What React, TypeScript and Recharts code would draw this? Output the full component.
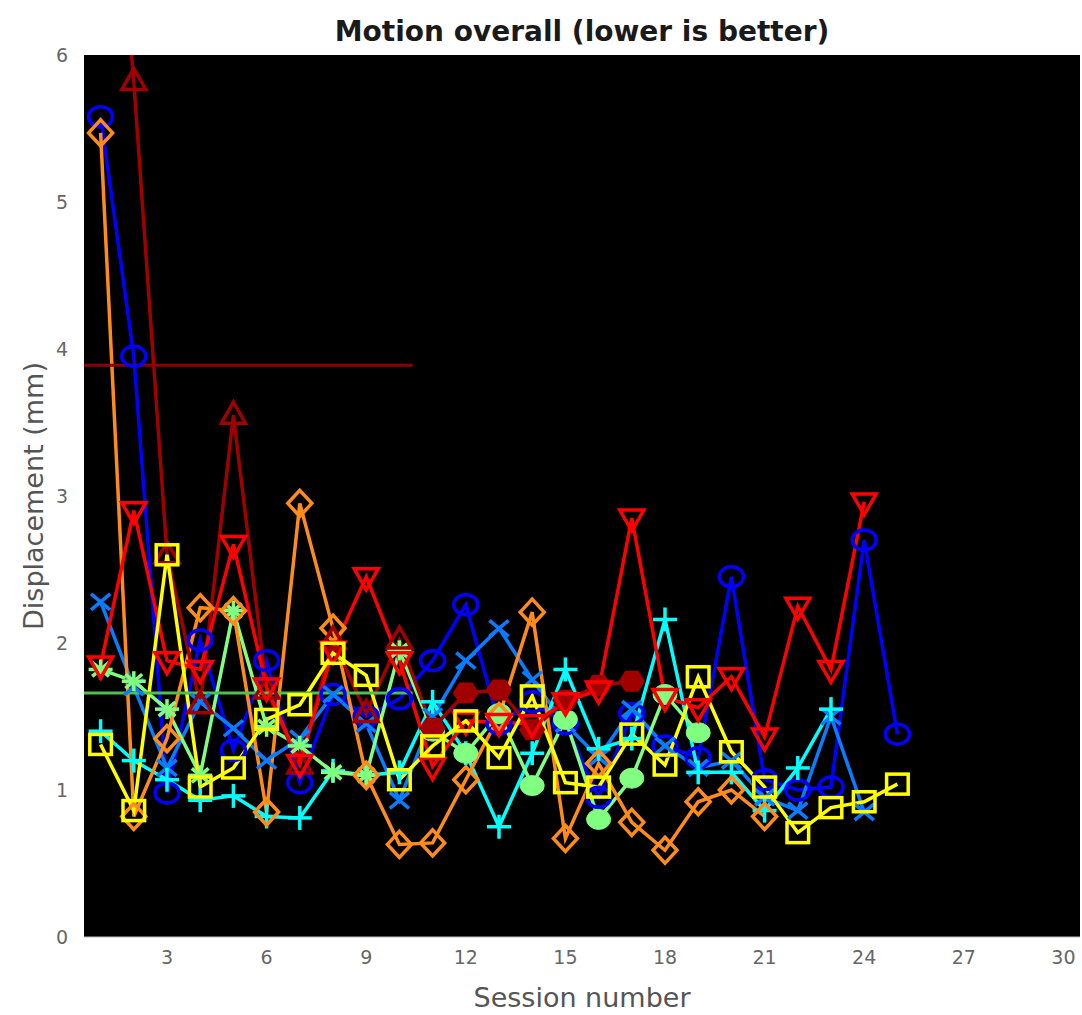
import { LineChart, Line, XAxis, YAxis, CartesianGrid, ReferenceLine } from 'recharts';

// session numbers on the x axis
const sessions = [1, 2, 3, 4, 5, 6, 7, 8, 9, 10, 11, 12, 13, 14, 15, 16, 17, 18, 19, 20, 21, 22, 23, 24, 25];

// displacement per session (mm), null = no session
const blueCircle = [5.58, 3.95, 0.98, 2.02, 1.27, 1.88, 1.05, 1.65, 1.5, 1.62, 1.88, 2.26, 1.45, 1.6, 1.45, 0.95, 1.52, 1.3, 1.22, 2.45, 1.07, 1.0, 1.02, 2.7, 1.38];
const lightBlueCross = [2.28, 1.7, 1.15, 1.6, 1.42, 1.2, 1.35, 1.65, 1.45, 0.93, 1.5, 1.88, 2.1, 1.75, 1.45, 1.22, 1.55, 1.3, 1.15, 1.2, 0.95, 0.86, 1.5, 0.85, null];
const cyanPlus = [1.4, 1.2, 1.07, 0.93, 0.96, 0.82, 0.81, 1.13, 1.1, 1.12, 1.6, 1.25, 0.75, 1.25, 1.82, 1.28, 1.35, 2.16, 1.12, 1.12, 0.86, 1.15, 1.55, null, null];
const greenMixed = [1.82, 1.74, 1.55, 1.1, 2.22, 1.43, 1.3, 1.12, 1.1, 1.95, 1.4, 1.25, 1.52, 1.03, 1.48, 0.8, 1.08, 1.65, 1.39, null, null, null, null, null, null];
const orangeDiamond = [5.47, 0.82, 1.35, 2.24, 2.22, 0.85, 2.95, 2.1, 1.1, 0.63, 0.64, 1.07, 1.5, 2.21, 0.67, 1.18, 0.78, 0.59, 0.92, 1.0, 0.82, null, null, null, null];
const darkRedMixed = [8.5, 5.82, 2.6, 1.58, 3.55, 1.68, 1.17, 2.02, 1.52, 2.02, 1.42, 1.66, 1.68, 1.41, 1.61, 1.71, 1.74, null, null, null, null, null, null, null, null];
const redDown = [1.85, 2.9, 1.88, 1.82, 2.67, 1.7, 1.18, 1.95, 2.45, 1.88, 1.16, 1.47, 1.46, 1.45, 1.6, 1.68, 2.85, 1.63, 1.56, 1.77, 1.36, 2.25, 1.82, 2.96, null];
const yellowSquare = [1.31, 0.86, 2.6, 1.02, 1.15, 1.48, 1.58, 1.93, 1.78, 1.07, 1.3, 1.47, 1.22, 1.64, 1.05, 1.02, 1.38, 1.17, 1.77, 1.26, 1.02, 0.71, 0.88, 0.92, 1.04];

// horizontal reference levels drawn over the first sessions
const darkRedLevel = 3.89;
const greenLevel = 1.66;
const levelEnd = 10.4;

const xTicks = [3, 6, 9, 12, 15, 18, 21, 24, 27, 30];
const yTicks = [0, 1, 2, 3, 4, 5, 6];

const data = sessions.map((s, i) => ({
  session: s,
  blue: blueCircle[i],
  lightBlue: lightBlueCross[i],
  cyan: cyanPlus[i],
  green: greenMixed[i],
  orange: orangeDiamond[i],
  darkRed: darkRedMixed[i],
  red: redDown[i],
  yellow: yellowSquare[i],
}));

function Marker({ cx, cy, shape, color }: any) {
  const sx = 12;
  const sy = 10;
  const sw = 3.5;
  if (shape === 'circle') {
    return <ellipse cx={cx} cy={cy} rx={sx} ry={sy} fill="none" stroke={color} strokeWidth={sw} />;
  }
  if (shape === 'diamond') {
    const pts = `${cx},${cy - sy * 1.3} ${cx + sx},${cy} ${cx},${cy + sy * 1.3} ${cx - sx},${cy}`;
    return <polygon points={pts} fill="none" stroke={color} strokeWidth={sw} />;
  }
  if (shape === 'up') {
    const pts = `${cx},${cy - sy * 1.3} ${cx + sx},${cy + sy * 0.8} ${cx - sx},${cy + sy * 0.8}`;
    return <polygon points={pts} fill="none" stroke={color} strokeWidth={sw} />;
  }
  if (shape === 'down') {
    const pts = `${cx},${cy + sy * 1.3} ${cx + sx},${cy - sy * 0.8} ${cx - sx},${cy - sy * 0.8}`;
    return <polygon points={pts} fill="none" stroke={color} strokeWidth={sw} />;
  }
  if (shape === 'square') {
    return <rect x={cx - sx * 0.9} y={cy - sy} width={sx * 1.8} height={sy * 2} fill="none" stroke={color} strokeWidth={sw} />;
  }
  if (shape === 'plus') {
    return (
      <g stroke={color} strokeWidth={sw}>
        <line x1={cx - sx} y1={cy} x2={cx + sx} y2={cy} />
        <line x1={cx} y1={cy - sy * 1.2} x2={cx} y2={cy + sy * 1.2} />
      </g>
    );
  }
  if (shape === 'cross') {
    return (
      <g stroke={color} strokeWidth={sw}>
        <line x1={cx - sx * 0.8} y1={cy - sy * 0.8} x2={cx + sx * 0.8} y2={cy + sy * 0.8} />
        <line x1={cx - sx * 0.8} y1={cy + sy * 0.8} x2={cx + sx * 0.8} y2={cy - sy * 0.8} />
      </g>
    );
  }
  if (shape === 'asterisk') {
    return (
      <g stroke={color} strokeWidth={sw}>
        <line x1={cx - sx} y1={cy} x2={cx + sx} y2={cy} />
        <line x1={cx} y1={cy - sy} x2={cx} y2={cy + sy} />
        <line x1={cx - sx * 0.7} y1={cy - sy * 0.7} x2={cx + sx * 0.7} y2={cy + sy * 0.7} />
        <line x1={cx - sx * 0.7} y1={cy + sy * 0.7} x2={cx + sx * 0.7} y2={cy - sy * 0.7} />
      </g>
    );
  }
  if (shape === 'hex') {
    const pts = [0, 60, 120, 180, 240, 300]
      .map((a) => `${cx + sx * Math.cos((a * Math.PI) / 180)},${cy + sy * 1.1 * Math.sin((a * Math.PI) / 180)}`)
      .join(' ');
    return <polygon points={pts} fill={color} stroke={color} strokeWidth={2} />;
  }
  // filled dot
  return <ellipse cx={cx} cy={cy} rx={sx} ry={sy} fill={color} stroke={color} strokeWidth={1} />;
}

// first 10 sessions use one marker, later ones another
function dotFor(shape: string, color: string, laterShape?: string) {
  return (p: any) => {
    const key = `${shape}-${color}-${p.index}`;
    if (p.cy == null || p.value == null || p.value > 6) return <g key={key} />;
    const s = laterShape && p.index >= 10 ? laterShape : shape;
    return (
      <g key={key}>
        <Marker cx={p.cx} cy={p.cy} shape={s} color={color} />
      </g>
    );
  };
}

const series = [
  { key: 'blue', color: '#0000ff', shape: 'circle' },
  { key: 'lightBlue', color: '#0a7cff', shape: 'cross' },
  { key: 'cyan', color: '#00ffff', shape: 'plus' },
  { key: 'green', color: '#80ff80', shape: 'asterisk', later: 'dot' },
  { key: 'orange', color: '#ff8c1a', shape: 'diamond' },
  { key: 'darkRed', color: '#a00000', shape: 'up', later: 'hex' },
  { key: 'red', color: '#ff0000', shape: 'down' },
  { key: 'yellow', color: '#ffff00', shape: 'square' },
];

export default function App() {
  const font = '"DejaVu Sans", "Liberation Sans", sans-serif';
  return (
    <div style={{ position: 'absolute', left: 0, top: 0, width: 1082, height: 1015, background: '#fff', fontFamily: font }}>
      <div style={{ position: 'absolute', left: 84, width: 996, top: 15, textAlign: 'center', fontSize: 28, fontWeight: 'bold', color: '#1a1a1a' }}>
        Motion overall (lower is better)
      </div>
      <LineChart width={1082} height={1015} data={data} margin={{ top: 55, right: 2, left: 0, bottom: 0 }}>
        <CartesianGrid horizontal={false} vertical={false} fill="#000" fillOpacity={1} />
        <XAxis
          dataKey="session"
          type="number"
          domain={[0.5, 30.5]}
          ticks={xTicks}
          allowDataOverflow
          height={78}
          tickLine={false}
          axisLine={{ stroke: '#bbb' }}
          tickMargin={8}
          tick={{ fill: '#666', fontSize: 19, fontFamily: font }}
          label={{ value: 'Session number', position: 'insideBottom', offset: 8, style: { fill: '#555', fontSize: 27, fontFamily: font } }}
        />
        <YAxis
          type="number"
          domain={[0, 6]}
          ticks={yTicks}
          allowDataOverflow
          width={84}
          tickLine={false}
          axisLine={false}
          tickMargin={10}
          tick={{ fill: '#666', fontSize: 19, fontFamily: font }}
          label={{ value: 'Displacement (mm)', angle: -90, position: 'insideLeft', offset: 33, style: { fill: '#555', fontSize: 27, fontFamily: font, textAnchor: 'middle' } }}
        />
        {series.map((s) => (
          <Line
            key={s.key}
            dataKey={s.key}
            type="linear"
            stroke={s.color}
            strokeWidth={3.5}
            dot={dotFor(s.shape, s.color, s.later)}
            activeDot={false}
            isAnimationActive={false}
          />
        ))}
        <ReferenceLine segment={[{ x: 0.5, y: darkRedLevel }, { x: levelEnd, y: darkRedLevel }]} stroke="#8b0000" strokeWidth={3} />
        <ReferenceLine segment={[{ x: 0.5, y: greenLevel }, { x: levelEnd, y: greenLevel }]} stroke="#4fbf4f" strokeWidth={3} />
      </LineChart>
    </div>
  );
}
